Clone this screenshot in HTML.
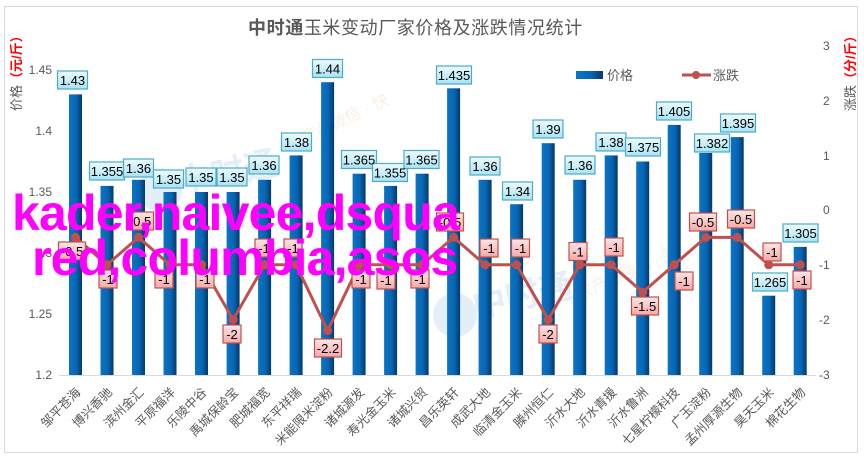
<!DOCTYPE html>
<html><head><meta charset="utf-8"><style>
html,body{margin:0;padding:0;background:#fff;}
svg{display:block;}
text{font-family:"Liberation Sans","Noto Sans CJK SC",sans-serif;}
</style></head><body>
<svg width="864" height="458" viewBox="0 0 864 458" xmlns="http://www.w3.org/2000/svg">
<defs>
<linearGradient id="bar" x1="0" x2="1" y1="0" y2="0">
<stop offset="0" stop-color="#0a74c6"/><stop offset="0.55" stop-color="#0866b2"/><stop offset="1" stop-color="#06386a"/>
</linearGradient>
<linearGradient id="bl" x1="0" x2="0" y1="0" y2="1">
<stop offset="0" stop-color="#eefbfe"/><stop offset="1" stop-color="#a9e3f4"/>
</linearGradient>
<linearGradient id="rl" x1="0" x2="0" y1="0" y2="1">
<stop offset="0" stop-color="#fde6e6"/><stop offset="1" stop-color="#f6a8a8"/>
</linearGradient>
</defs>
<rect x="0" y="0" width="864" height="458" fill="#fff"/>
<rect x="4.5" y="6.5" width="853" height="446" fill="#fff" stroke="#d9d9d9" stroke-width="1"/>

<!-- faint watermarks -->
<g opacity="0.13" fill="#2f7fd0">
<circle cx="160" cy="190" r="22"/>
<text x="180" y="195" font-size="34" font-weight="bold" transform="rotate(-12,180,195)">中时通</text>
<circle cx="455" cy="315" r="22"/>
<text x="475" y="318" font-size="34" font-weight="bold" transform="rotate(-12,475,318)">中时通</text>
</g>
<g opacity="0.18" fill="#f0a060">
<text x="290" y="150" font-size="16" transform="rotate(-25,290,150)">农产品微信 · 快</text>
<text x="580" y="300" font-size="16" transform="rotate(-25,580,300)">农产品微信 · 快</text>
</g>

<!-- title -->
<text x="248" y="34" font-size="18" fill="#595959" letter-spacing="0.6"><tspan font-weight="bold">中时通</tspan>玉米变动厂家价格及涨跌情况统计</text>

<!-- legend -->
<rect x="576" y="71" width="27" height="8" fill="url(#bar)"/>
<text x="607" y="80" font-size="13" fill="#595959">价格</text>
<line x1="682" y1="75" x2="711" y2="75" stroke="#c0504d" stroke-width="3"/>
<circle cx="696" cy="75" r="4" fill="#c0504d"/>
<text x="713" y="80" font-size="13" fill="#595959">涨跌</text>

<!-- axis titles -->
<text transform="translate(21,111) rotate(-90)" font-size="13" fill="#595959">价格<tspan fill="#ff0000" font-weight="bold">（元/斤）</tspan></text>
<text transform="translate(855,111) rotate(-90)" font-size="13" fill="#595959">涨跌<tspan fill="#ff0000" font-weight="bold">（分/斤）</tspan></text>

<!-- left ticks -->
<g font-size="12" fill="#595959" text-anchor="end">
<text x="52" y="74">1.45</text>
<text x="52" y="135">1.4</text>
<text x="52" y="196">1.35</text>
<text x="52" y="257">1.3</text>
<text x="52" y="318">1.25</text>
<text x="52" y="379">1.2</text>
</g>
<!-- right ticks -->
<g font-size="12" fill="#595959">
<text x="823" y="50">3</text>
<text x="823" y="105">2</text>
<text x="823" y="160">1</text>
<text x="823" y="214">0</text>
<text x="819" y="269">-1</text>
<text x="819" y="324">-2</text>
<text x="819" y="379">-3</text>
</g>

<!-- x axis -->
<line x1="59" y1="375.5" x2="816" y2="375.5" stroke="#d9d9d9" stroke-width="1"/>

<!-- bars -->
<g fill="url(#bar)">
<rect x="69" y="94.4" width="13" height="280.6"/>
<rect x="100.5" y="185.9" width="13" height="189.1"/>
<rect x="132" y="179.8" width="13" height="195.2"/>
<rect x="163.5" y="192" width="13" height="183"/>
<rect x="195" y="192" width="13" height="183"/>
<rect x="226.6" y="192" width="13" height="183"/>
<rect x="258.1" y="179.8" width="13" height="195.2"/>
<rect x="289.6" y="155.4" width="13" height="219.6"/>
<rect x="321.1" y="82.2" width="13" height="292.8"/>
<rect x="352.6" y="173.7" width="13" height="201.3"/>
<rect x="384.1" y="185.9" width="13" height="189.1"/>
<rect x="415.6" y="173.7" width="13" height="201.3"/>
<rect x="447.1" y="88.3" width="13" height="286.7"/>
<rect x="478.6" y="179.8" width="13" height="195.2"/>
<rect x="510.1" y="204.2" width="13" height="170.8"/>
<rect x="541.7" y="143.2" width="13" height="231.8"/>
<rect x="573.2" y="179.8" width="13" height="195.2"/>
<rect x="604.7" y="155.4" width="13" height="219.6"/>
<rect x="636.2" y="161.5" width="13" height="213.5"/>
<rect x="667.7" y="124.9" width="13" height="250.1"/>
<rect x="699.2" y="153" width="13" height="222"/>
<rect x="730.7" y="137.1" width="13" height="237.9"/>
<rect x="762.2" y="295.7" width="13" height="79.3"/>
<rect x="793.7" y="246.9" width="13" height="128.1"/>
</g>

<!-- blue labels -->
<g stroke="#4bacc6" stroke-width="1.2" fill="url(#bl)">
<rect x="57.5" y="71" width="30" height="18"/>
<rect x="89.5" y="162" width="35" height="18"/>
<rect x="123.5" y="159" width="30" height="18"/>
<rect x="153.5" y="170" width="30" height="18"/>
<rect x="186" y="168" width="30" height="18"/>
<rect x="217" y="168" width="30" height="18"/>
<rect x="249" y="156" width="30" height="18"/>
<rect x="281.5" y="133" width="30" height="18"/>
<rect x="312.5" y="59.5" width="30" height="18"/>
<rect x="341.5" y="150.5" width="35" height="18"/>
<rect x="372.5" y="163.5" width="35" height="18"/>
<rect x="404" y="150.5" width="35" height="18"/>
<rect x="436.5" y="66" width="35" height="18"/>
<rect x="470" y="157" width="30" height="18"/>
<rect x="502.5" y="182" width="30" height="18"/>
<rect x="533" y="120" width="30" height="18"/>
<rect x="565" y="156" width="30" height="18"/>
<rect x="596" y="133" width="30" height="18"/>
<rect x="625.5" y="138" width="35" height="18"/>
<rect x="656.5" y="102" width="35" height="18"/>
<rect x="694.5" y="134" width="35" height="18"/>
<rect x="720.5" y="114" width="35" height="18"/>
<rect x="752.5" y="273" width="35" height="18"/>
<rect x="783" y="224" width="35" height="18"/>
</g>
<g font-size="13" fill="#000" text-anchor="middle">
<text x="72.5" y="85">1.43</text>
<text x="107" y="176">1.355</text>
<text x="138.5" y="173">1.36</text>
<text x="168.5" y="184">1.35</text>
<text x="201" y="182">1.35</text>
<text x="232" y="182">1.35</text>
<text x="264" y="170">1.36</text>
<text x="296.5" y="147">1.38</text>
<text x="327.5" y="73.5">1.44</text>
<text x="359" y="164.5">1.365</text>
<text x="390" y="177.5">1.355</text>
<text x="421.5" y="164.5">1.365</text>
<text x="454" y="80">1.435</text>
<text x="485" y="171">1.36</text>
<text x="517.5" y="196">1.34</text>
<text x="548" y="134">1.39</text>
<text x="580" y="170">1.36</text>
<text x="611" y="147">1.38</text>
<text x="643" y="152">1.375</text>
<text x="674" y="116">1.405</text>
<text x="712" y="148">1.382</text>
<text x="738" y="128">1.395</text>
<text x="770" y="287">1.265</text>
<text x="800.5" y="238">1.305</text>
</g>

<!-- line series -->
<polyline fill="none" stroke="#c0504d" stroke-width="3" stroke-linejoin="round"
points="75.5,237.4 107,264.8 138.5,237.4 170,264.8 201.5,264.8 233.1,319.6 264.6,264.8 296.1,264.8 327.6,330.6 359.1,264.8 390.6,264.8 422.1,264.8 453.6,237.4 485.1,264.8 516.6,264.8 548.2,319.6 579.7,264.8 611.2,264.8 642.7,292.2 674.2,264.8 705.7,237.4 737.2,237.4 768.7,264.8 800.2,264.8"/>
<g fill="#c0504d">
<circle cx="75.5" cy="237.4" r="4.5"/><circle cx="107" cy="264.8" r="4.5"/><circle cx="138.5" cy="237.4" r="4.5"/><circle cx="170" cy="264.8" r="4.5"/><circle cx="201.5" cy="264.8" r="4.5"/><circle cx="233.1" cy="319.6" r="4.5"/><circle cx="264.6" cy="264.8" r="4.5"/><circle cx="296.1" cy="264.8" r="4.5"/><circle cx="327.6" cy="330.6" r="4.5"/><circle cx="359.1" cy="264.8" r="4.5"/><circle cx="390.6" cy="264.8" r="4.5"/><circle cx="422.1" cy="264.8" r="4.5"/><circle cx="453.6" cy="237.4" r="4.5"/><circle cx="485.1" cy="264.8" r="4.5"/><circle cx="516.6" cy="264.8" r="4.5"/><circle cx="548.2" cy="319.6" r="4.5"/><circle cx="579.7" cy="264.8" r="4.5"/><circle cx="611.2" cy="264.8" r="4.5"/><circle cx="642.7" cy="292.2" r="4.5"/><circle cx="674.2" cy="264.8" r="4.5"/><circle cx="705.7" cy="237.4" r="4.5"/><circle cx="737.2" cy="237.4" r="4.5"/><circle cx="768.7" cy="264.8" r="4.5"/><circle cx="800.2" cy="264.8" r="4.5"/>
</g>

<!-- red labels -->
<g stroke="#c0504d" stroke-width="1.2" fill="url(#rl)">
<rect x="58.5" y="242" width="27" height="18"/>
<rect x="99" y="270" width="18" height="18"/>
<rect x="126.5" y="212" width="27" height="18"/>
<rect x="155" y="270" width="18" height="18"/>
<rect x="196" y="270" width="18" height="18"/>
<rect x="223" y="325" width="18" height="18"/>
<rect x="255" y="239" width="18" height="18"/>
<rect x="284" y="239" width="18" height="18"/>
<rect x="314.5" y="339" width="27" height="18"/>
<rect x="352" y="270" width="18" height="18"/>
<rect x="377" y="271" width="18" height="18"/>
<rect x="411" y="270" width="18" height="18"/>
<rect x="436.5" y="213" width="27" height="18"/>
<rect x="480" y="239" width="18" height="18"/>
<rect x="511.5" y="239" width="18" height="18"/>
<rect x="539" y="325" width="18" height="18"/>
<rect x="569" y="242.5" width="18" height="18"/>
<rect x="605" y="238" width="18" height="18"/>
<rect x="631.5" y="297" width="27" height="18"/>
<rect x="675" y="272" width="18" height="18"/>
<rect x="689.5" y="213" width="27" height="18"/>
<rect x="727.5" y="210" width="27" height="18"/>
<rect x="763" y="243" width="18" height="18"/>
<rect x="793" y="271" width="18" height="18"/>
</g>
<g font-size="13" fill="#000" text-anchor="middle">
<text x="72" y="256">-0.5</text>
<text x="108" y="284">-1</text>
<text x="140" y="226">-0.5</text>
<text x="164" y="284">-1</text>
<text x="205" y="284">-1</text>
<text x="232" y="339">-2</text>
<text x="264" y="253">-1</text>
<text x="293" y="253">-1</text>
<text x="328" y="353">-2.2</text>
<text x="361" y="284">-1</text>
<text x="386" y="285">-1</text>
<text x="420" y="284">-1</text>
<text x="450" y="227">-0.5</text>
<text x="489" y="253">-1</text>
<text x="520.5" y="253">-1</text>
<text x="548" y="339">-2</text>
<text x="578" y="256.5">-1</text>
<text x="614" y="252">-1</text>
<text x="645" y="311">-1.5</text>
<text x="684" y="286">-1</text>
<text x="703" y="227">-0.5</text>
<text x="741" y="224">-0.5</text>
<text x="772" y="257">-1</text>
<text x="802" y="285">-1</text>
</g>

<!-- category labels -->
<g font-size="12.5" fill="#595959" text-anchor="end">
<text transform="translate(81.5,393) rotate(-45)">邹平苍海</text>
<text transform="translate(113,393) rotate(-45)">博兴香驰</text>
<text transform="translate(144.5,393) rotate(-45)">滨州金汇</text>
<text transform="translate(176,393) rotate(-45)">平原福洋</text>
<text transform="translate(207.5,393) rotate(-45)">乐陵中谷</text>
<text transform="translate(239.1,393) rotate(-45)">禹城保龄宝</text>
<text transform="translate(270.6,393) rotate(-45)">肥城福宽</text>
<text transform="translate(302.1,393) rotate(-45)">东平祥瑞</text>
<text transform="translate(333.6,393) rotate(-45)">米能限米淀粉</text>
<text transform="translate(365.1,393) rotate(-45)">诸城源发</text>
<text transform="translate(396.6,393) rotate(-45)">寿光金玉米</text>
<text transform="translate(428.1,393) rotate(-45)">诸城兴贸</text>
<text transform="translate(459.6,393) rotate(-45)">昌乐英轩</text>
<text transform="translate(491.1,393) rotate(-45)">成武大地</text>
<text transform="translate(522.6,393) rotate(-45)">临清金玉米</text>
<text transform="translate(554.2,393) rotate(-45)">滕州恒仁</text>
<text transform="translate(585.7,393) rotate(-45)">沂水大地</text>
<text transform="translate(617.2,393) rotate(-45)">沂水青援</text>
<text transform="translate(648.7,393) rotate(-45)">沂水鲁洲</text>
<text transform="translate(680.2,393) rotate(-45)">七星柠檬科技</text>
<text transform="translate(711.7,393) rotate(-45)">广玉淀粉</text>
<text transform="translate(743.2,393) rotate(-45)">孟州厚源生物</text>
<text transform="translate(774.7,393) rotate(-45)">昊天玉米</text>
<text transform="translate(806.2,393) rotate(-45)">棉花生物</text>
</g>

<!-- magenta overlay -->
<g font-size="50" font-weight="bold" fill="#ff00ff" letter-spacing="-0.8">
<text x="12" y="230">kader,naivee,dsqua</text>
<text x="32" y="275">red,columbia,asos</text>
</g>
</svg>
</body></html>
